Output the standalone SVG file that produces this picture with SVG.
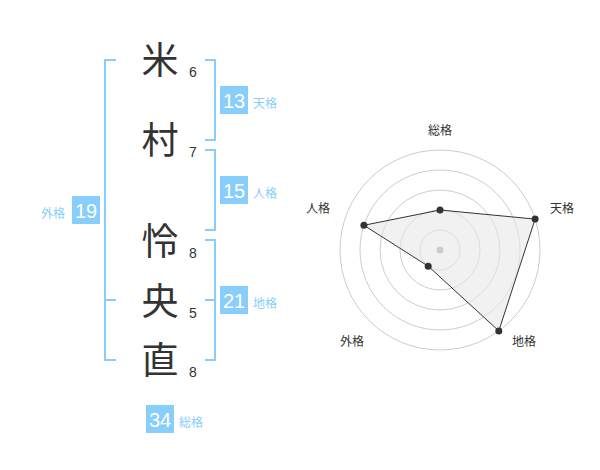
<svg xmlns="http://www.w3.org/2000/svg" width="600" height="470" viewBox="0 0 600 470">
<style>
.ch{font-family:"Noto Sans CJK JP","Noto Sans CJK SC",sans-serif;font-size:37px;fill:#333;text-anchor:middle}
.st{font-family:"Liberation Sans",Arial,sans-serif;font-size:14px;fill:#333}
.box{fill:#87cefa}
.bn{font-family:"Liberation Sans",Arial,sans-serif;font-size:20px;fill:#fff;text-anchor:middle}
.bl{font-family:"Noto Sans CJK JP","Noto Sans CJK SC",sans-serif;font-size:12px;fill:#87cefa}
.br{fill:none;stroke:#87cefa;stroke-width:2}
.ring{fill:none;stroke:#ccc;stroke-width:1}
.rl{font-family:"Noto Sans CJK JP","Noto Sans CJK SC",sans-serif;font-size:12px;fill:#333;text-anchor:middle}
.pt{fill:#333}
</style>
<rect width="600" height="470" fill="#fff"/>
<g id="connectors">
<path class="br" d="M116,60 H105 V360 H116 M105,300 H116"/>
<path class="br" d="M205,60 H215 V140 H205"/>
<path class="br" d="M205,150 H215 V230 H205"/>
<path class="br" d="M205,240 H215 V360 H205 M205,300 H215"/>
</g>
<g id="char1"><text class="ch" x="160" y="74">米</text><text class="st" x="189" y="77">6</text></g>
<g id="char2"><text class="ch" x="160" y="154">村</text><text class="st" x="189" y="157">7</text></g>
<g id="char3"><text class="ch" x="160" y="255">怜</text><text class="st" x="189" y="258">8</text></g>
<g id="char4"><text class="ch" x="160" y="315">央</text><text class="st" x="189" y="318">5</text></g>
<g id="char5"><text class="ch" x="160" y="374">直</text><text class="st" x="189" y="377">8</text></g>
<g id="tenkaku"><rect class="box" x="220" y="86" width="28" height="28"/><text class="bn" x="234" y="107.5">13</text><text class="bl" x="253" y="108">天格</text></g>
<g id="jinkaku"><rect class="box" x="220" y="176" width="28" height="28"/><text class="bn" x="234" y="197.5">15</text><text class="bl" x="253" y="198">人格</text></g>
<g id="chikaku"><rect class="box" x="220" y="286" width="28" height="28"/><text class="bn" x="234" y="307.5">21</text><text class="bl" x="253" y="308">地格</text></g>
<g id="gaikaku"><rect class="box" x="72" y="196" width="28" height="28"/><text class="bn" x="86" y="217.5">19</text><text class="bl" x="41" y="218">外格</text></g>
<g id="soukaku"><rect class="box" x="146" y="405" width="28" height="28"/><text class="bn" x="160" y="426.5">34</text><text class="bl" x="179" y="427">総格</text></g>
<g id="radar">
<circle class="ring" cx="440" cy="250" r="20"/>
<circle class="ring" cx="440" cy="250" r="40"/>
<circle class="ring" cx="440" cy="250" r="60"/>
<circle class="ring" cx="440" cy="250" r="80"/>
<circle class="ring" cx="440" cy="250" r="100"/>
<polygon points="440,210 535.1,219.1 498.8,330.9 428.2,266.2 363.9,225.3" fill="#e8e8e8" fill-opacity="0.6" stroke="#333" stroke-width="1"/>
<circle cx="440" cy="250" r="3.5" fill="#ccc"/>
<circle class="pt" cx="440" cy="210" r="3.5"/>
<circle class="pt" cx="535.1" cy="219.1" r="3.5"/>
<circle class="pt" cx="498.8" cy="330.9" r="3.5"/>
<circle class="pt" cx="428.2" cy="266.2" r="3.5"/>
<circle class="pt" cx="363.9" cy="225.3" r="3.5"/>
<text class="rl" x="440" y="134.5">総格</text>
<text class="rl" x="562" y="212.5">天格</text>
<text class="rl" x="524" y="346">地格</text>
<text class="rl" x="352" y="346">外格</text>
<text class="rl" x="318" y="212.5">人格</text>
</g>
</svg>
